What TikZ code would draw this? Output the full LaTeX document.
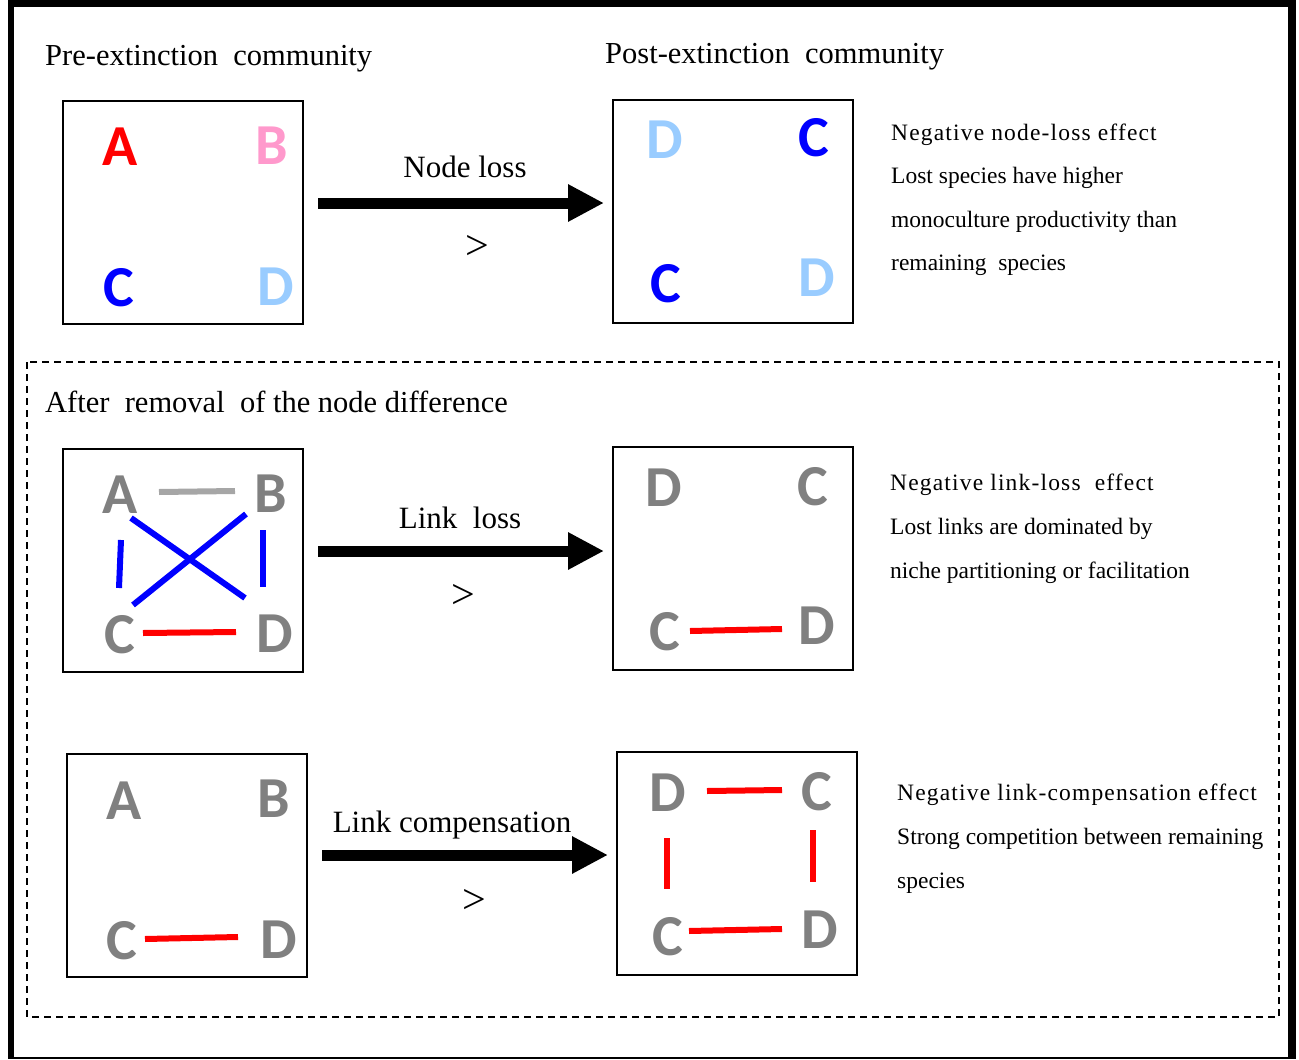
\documentclass[tikz,border=0pt]{standalone}
\usepackage{fontspec}
\setmainfont{Liberation Serif}
\newfontfamily\letterfont{Carlito}
\newfontfamily\spacedfont[LetterSpace=5]{Liberation Serif}
\usetikzlibrary{arrows.meta,calc}

\definecolor{spA}{HTML}{FF0000}
\definecolor{spB}{HTML}{FF99CC}
\definecolor{spC}{HTML}{0000FF}
\definecolor{spD}{HTML}{99CCFF}
\definecolor{spGray}{HTML}{808080}
\definecolor{linkGray}{HTML}{A6A6A6}
\definecolor{linkBlue}{HTML}{0000FF}
\definecolor{linkRed}{HTML}{FF0000}

\tikzset{
  community/.style={draw=black, line width=2pt, minimum width=240pt, minimum height=223pt, outer sep=0pt, inner sep=0pt},
  sp/.style={font=\letterfont\bfseries\fontsize{58}{58}\selectfont, inner sep=0pt},
  heading/.style={font=\fontsize{30.5}{36}\selectfont, inner sep=0pt, anchor=base west},
  arrowlabel/.style={font=\fontsize{31}{36}\selectfont, inner sep=0pt, anchor=base},
  rel/.style={font=\fontsize{42}{42}\selectfont, inner sep=0pt},
  effect/.style={font=\fontsize{23.5}{44}\selectfont, inner sep=0pt, anchor=base west},
  effecthead/.style={effect, font=\spacedfont\fontsize{23.5}{44}\selectfont},
  bigarrow/.style={line width=11pt, -{Triangle[length=36pt,width=35pt]}, shorten <=15pt, shorten >=9pt},
  link/.style={line width=6pt},
}

\begin{document}
\begin{tikzpicture}[x=1pt, y=-1pt]
\useasboundingbox (0,0) rectangle (1299,1060);

% outer frame
\fill[black] (8,0) rectangle (1296,7);
\fill[black] (8,0) rectangle (14,1059);
\fill[black] (1288,0) rectangle (1296,1059);
\fill[black] (8,1057) rectangle (1296,1059);

% frame of the lower panel
\draw[line width=2pt, dash pattern=on 7pt off 5pt] (27,362) rectangle (1279,1017);

% headings
\node[heading] (h1) at (45,65) {Pre-extinction\ \ community};
\node[heading] (h2) at (605,63) {Post-extinction\ \ community};
\node[heading] (h3) at (45,412) {After\ \ removal\ \ of\ the\ node\ difference};

% ---------- node loss ----------
\node[community] (b1) at (183,212) {};
\node[community] (b2) at (733,211) {};
\node[sp, text=spA] (A1) at (120,147) {A};
\node[sp, text=spB] (B1) at (272,146) {B};
\node[sp, text=spC] (C1) at (119,288) {C};
\node[sp, text=spD] (D1) at (276,287) {D};
\node[sp, text=spD] (D2a) at (665,140) {D};
\node[sp, text=spC] (C2a) at (814,138) {C};
\node[sp, text=spC] (C2b) at (666,284) {C};
\node[sp, text=spD] (D2b) at (817,278) {D};
\draw[bigarrow] ([yshift=9pt]b1.east) -- ([yshift=8pt]b2.west);
\node[arrowlabel] (l1) at (465,177) {Node loss};
\node[rel] (g1) at (477,247) {>};
\node[effecthead] (e1a) at (891,140) {Negative node-loss effect};
\node[effect] (e1b) at (891,183) {Lost species have higher};
\node[effect] (e1c) at (891,227) {monoculture productivity than};
\node[effect] (e1d) at (891,270) {remaining\ \ species};

% ---------- link loss ----------
\node[community] (b3) at (183,560) {};
\node[community] (b4) at (733,558) {};
\node[sp, text=spGray] (A3) at (120,495) {A};
\node[sp, text=spGray] (B3) at (271,494) {B};
\node[sp, text=spGray] (C3) at (120,635) {C};
\node[sp, text=spGray] (D3) at (275,634) {D};
\draw[link, linkGray] ($(A3)+(39,-3)$) -- ($(B3)+(-36,-3)$);
\draw[link, linkBlue] ($(A3)+(1,45)$) -- ($(C3)+(-1,-47)$);
\draw[link, linkBlue] ($(B3)+(-8,36)$) -- ($(D3)+(-12,-47)$);
\draw[link, linkBlue] ($(A3)+(11,23)$) -- ($(D3)+(-30,-36)$);
\draw[link, linkBlue] ($(B3)+(-25,20)$) -- ($(C3)+(13,-30)$);
\draw[link, linkRed] ($(C3)+(23,-2)$) -- ($(D3)+(-39,-2)$);
\node[sp, text=spGray] (D4) at (664,488) {D};
\node[sp, text=spGray] (C4a) at (813,487) {C};
\node[sp, text=spGray] (C4) at (665,632) {C};
\node[sp, text=spGray] (D4b) at (817,626) {D};
\draw[link, linkRed] ($(C4)+(25,-1)$) -- ($(D4b)+(-35,3)$);
\draw[bigarrow] ([yshift=9pt]b3.east) -- ([yshift=7pt]b4.west);
\node[arrowlabel] (l2) at (460,528) {Link\ \ loss};
\node[rel] (g2) at (463,596) {>};
\node[effecthead] (e2a) at (890,490) {Negative link-loss\ \ effect};
\node[effect] (e2b) at (890,534) {Lost links are dominated by};
\node[effect] (e2c) at (890,578) {niche partitioning or facilitation};

% ---------- link compensation ----------
\node[community] (b5) at (187,865) {};
\node[community] (b6) at (737,863) {};
\node[sp, text=spGray] (A5) at (124,801) {A};
\node[sp, text=spGray] (B5) at (274,799) {B};
\node[sp, text=spGray] (C5) at (122,941) {C};
\node[sp, text=spGray] (D5) at (279,940) {D};
\draw[link, linkRed] ($(C5)+(23,-2)$) -- ($(D5)+(-41,-3)$);
\node[sp, text=spGray] (D6a) at (668,793) {D};
\node[sp, text=spGray] (C6a) at (817,792) {C};
\node[sp, text=spGray] (C6b) at (668,937) {C};
\node[sp, text=spGray] (D6b) at (820,930) {D};
\draw[link, linkRed] ($(D6a)+(39,-2)$) -- ($(C6a)+(-35,-2)$);
\draw[link, linkRed] ($(D6a)+(-1,45)$) -- ($(C6b)+(-1,-48)$);
\draw[link, linkRed] ($(C6a)+(-4,38)$) -- ($(D6b)+(-7,-48)$);
\draw[link, linkRed] ($(C6b)+(21,-6)$) -- ($(D6b)+(-38,-1)$);
\draw[bigarrow] ([yshift=10pt]b5.east) -- ([yshift=8pt]b6.west);
\node[arrowlabel] (l3) at (452,832) {Link compensation};
\node[rel] (g3) at (474,901) {>};
\node[effecthead] (e3a) at (897,800) {Negative link-compensation effect};
\node[effect] (e3b) at (897,844) {Strong competition between remaining};
\node[effect] (e3c) at (897,888) {species};
\end{tikzpicture}
\end{document}
